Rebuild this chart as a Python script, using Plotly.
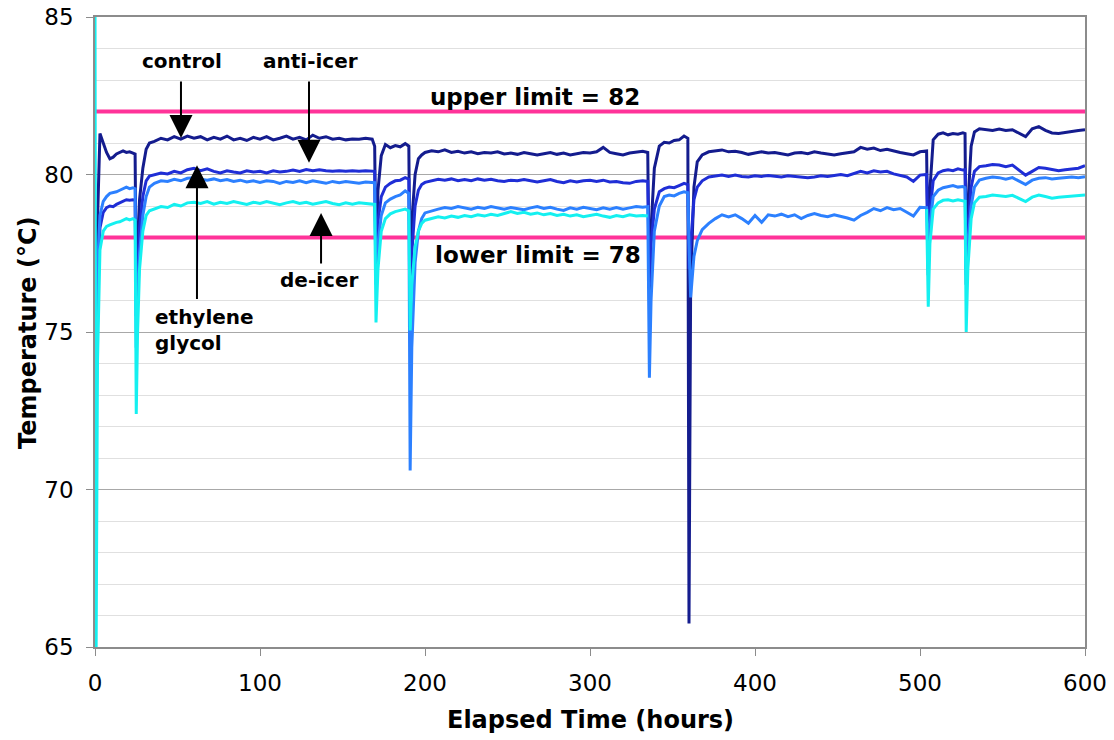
import plotly.graph_objects as go

# ---------------- data ----------------
time_h = [
    0, 0.6, 1.5, 3, 5, 7, 9, 11, 13, 15, 17, 19, 21, 23, 24.3,
    25, 25.8, 27, 29, 31, 33,
    36, 40, 44, 48, 52, 56, 60, 64, 68, 72,
    76, 80, 84, 88, 92, 96, 100, 104, 108, 112,
    116, 120, 124, 128, 132, 136, 140, 144, 148, 152,
    156, 160, 164, 168,
    169.5, 170.3, 171.5, 173.5, 176,
    179, 182, 185, 188, 190.2,
    191, 192, 194, 196, 198,
    200, 204, 208, 212, 216, 220, 224, 228, 232, 236,
    240, 244, 248, 252, 256, 260, 264, 268, 272, 276,
    280, 284, 288, 292, 296, 300, 304, 308, 312, 316,
    320, 324, 328, 332,
    335, 336, 337, 339, 342,
    345, 348, 351, 354, 357, 359.3,
    360, 361, 363, 365, 368,
    372, 376, 380, 384, 388, 392, 396, 400, 404, 408,
    412, 416, 420, 424, 428, 432, 436, 440, 444, 448,
    452, 456, 460, 464, 468, 472, 476, 480, 484, 488,
    492, 496, 500,
    504, 505, 506, 508,
    511, 514, 517, 520, 523, 526, 527.3,
    528, 529, 531, 533,
    536, 540, 544, 548, 552, 556, 560, 564, 568, 572,
    576, 580, 584, 588, 592, 596, 600,
]

control = [
    64.0, 70.0, 78.5, 81.3, 81.0, 80.7, 80.5, 80.55, 80.65, 80.7, 80.75, 80.7, 80.72, 80.68, 80.65,
    76.5, 77.8, 79.2, 80.2, 80.8, 81.0,
    81.05, 81.15, 81.1, 81.2, 81.12, 81.22, 81.15, 81.2, 81.1, 81.18,
    81.12, 81.22, 81.1, 81.15, 81.08, 81.18, 81.12, 81.2, 81.1, 81.15,
    81.22, 81.12, 81.18, 81.1, 81.25, 81.15, 81.2, 81.12, 81.15, 81.1,
    81.13, 81.12, 81.15, 81.12,
    80.9, 77.0, 79.5, 80.6, 80.95,
    80.85, 80.92, 80.88, 80.98, 80.9,
    76.0, 78.5, 80.0, 80.5, 80.62,
    80.7, 80.75, 80.72, 80.78, 80.7, 80.74, 80.68, 80.72, 80.66, 80.7,
    80.68, 80.72, 80.65, 80.68, 80.64, 80.7, 80.66, 80.62, 80.66, 80.7,
    80.64, 80.68, 80.62, 80.66, 80.7, 80.68, 80.72, 80.86, 80.7, 80.66,
    80.62, 80.68, 80.7, 80.74,
    80.7, 76.0, 78.3, 80.2, 80.9,
    81.02, 81.0, 81.08, 81.1, 81.22, 81.15,
    65.75, 76.5, 79.6, 80.4, 80.62,
    80.72, 80.75, 80.78, 80.72, 80.74, 80.7, 80.64, 80.68, 80.72, 80.68,
    80.7, 80.66, 80.62, 80.68, 80.7, 80.66, 80.72, 80.68, 80.64, 80.62,
    80.66, 80.7, 80.72, 80.86, 80.8, 80.84, 80.76, 80.8, 80.74, 80.7,
    80.66, 80.62, 80.72,
    80.75, 76.8, 79.5, 81.1,
    81.28, 81.32, 81.26, 81.3, 81.28, 81.32, 81.3,
    76.5, 79.0, 80.9, 81.35,
    81.45, 81.42, 81.4, 81.44, 81.4, 81.42, 81.3, 81.2, 81.45, 81.52,
    81.4, 81.32, 81.3, 81.34, 81.36, 81.4, 81.42,
]

anti_icer = [
    66.0, 72.0, 76.0, 78.3, 78.8, 78.95, 79.0, 78.98, 79.05, 79.1, 79.15, 79.2, 79.18, 79.2, 79.18,
    75.5, 76.8, 78.3, 79.3, 79.8, 79.95,
    80.0, 80.05, 80.02, 80.1, 80.05, 80.15, 80.2, 80.12, 80.18, 80.1,
    80.05, 80.12, 80.08, 80.05, 80.12, 80.08, 80.1, 80.05, 80.12, 80.08,
    80.1, 80.14, 80.1, 80.16, 80.12, 80.15, 80.12, 80.1, 80.12, 80.1,
    80.12, 80.1, 80.12, 80.1,
    80.1, 76.8, 78.5, 79.3, 79.6,
    79.72, 79.8, 79.82, 79.9, 79.85,
    76.0, 77.5, 79.0, 79.5, 79.68,
    79.75, 79.8, 79.85, 79.82, 79.86, 79.8, 79.84, 79.8, 79.86, 79.82,
    79.85, 79.8, 79.78, 79.82, 79.8, 79.84, 79.8, 79.76, 79.8, 79.84,
    79.78, 79.74, 79.8, 79.76, 79.8, 79.82, 79.78, 79.82, 79.76, 79.78,
    79.74, 79.72, 79.78, 79.8,
    79.78, 76.5, 77.8, 78.9, 79.45,
    79.55, 79.6, 79.58, 79.65, 79.72, 79.68,
    77.0, 77.8, 79.2, 79.6, 79.8,
    79.92, 79.96, 79.98, 79.94, 79.98, 79.94, 79.92, 79.96, 79.94, 79.97,
    79.94, 79.92, 79.96, 79.94, 79.92, 79.9, 79.92, 79.96, 79.94, 79.98,
    80.0, 79.96, 80.02, 80.1, 80.05, 80.12, 80.08, 80.1, 80.02, 79.98,
    79.92, 79.78, 79.98,
    80.0, 77.3, 78.8, 79.8,
    80.05, 80.12, 80.15, 80.12, 80.18, 80.14, 80.15,
    77.0, 78.3, 79.6, 80.1,
    80.25, 80.28, 80.32, 80.3, 80.25, 80.3, 80.15, 79.98, 80.1, 80.22,
    80.2, 80.15, 80.12, 80.15, 80.18, 80.2, 80.28,
]

ethylene_glycol = [
    66.0, 73.0, 77.0, 78.7, 79.15, 79.3, 79.4, 79.42, 79.45, 79.5, 79.55, 79.6, 79.55, 79.58, 79.55,
    74.5, 76.0, 77.5, 78.7, 79.3, 79.6,
    79.72, 79.8, 79.78, 79.85, 79.8, 79.88, 79.9, 79.85, 79.82, 79.86,
    79.8, 79.84, 79.78, 79.82, 79.76, 79.8, 79.75, 79.8, 79.78, 79.72,
    79.78, 79.75, 79.8, 79.74, 79.8, 79.76, 79.72, 79.78, 79.74, 79.78,
    79.75, 79.72, 79.76, 79.74,
    79.74, 76.5, 77.8, 78.7, 79.1,
    79.22, 79.3, 79.35, 79.48, 79.4,
    70.6, 74.5, 77.2, 78.2, 78.6,
    78.78, 78.85, 78.9, 78.95, 78.92, 78.98, 78.94, 78.9, 78.96, 78.92,
    78.98, 78.94, 78.9, 78.95, 78.92, 78.88, 78.94, 78.98, 78.92, 78.96,
    78.9, 78.86, 78.94, 78.9, 78.96, 78.92, 78.88, 78.94, 78.9, 78.95,
    78.9, 78.94, 78.98, 78.96,
    78.98, 73.55, 76.0, 78.2, 79.0,
    79.3, 79.35, 79.32, 79.4, 79.45, 79.42,
    77.8, 76.1, 77.4, 77.9, 78.25,
    78.45, 78.6, 78.72, 78.65, 78.72, 78.6, 78.45, 78.7, 78.48, 78.72,
    78.68, 78.74, 78.66, 78.72, 78.6, 78.7, 78.76, 78.7, 78.66, 78.72,
    78.68, 78.62, 78.55, 78.7, 78.8, 78.92, 78.85, 78.95, 78.88, 78.92,
    78.8, 78.68, 78.96,
    78.95, 77.0, 78.4, 79.3,
    79.5, 79.58, 79.62, 79.65, 79.6, 79.62, 79.58,
    76.8, 77.8, 79.0, 79.6,
    79.82, 79.88, 79.92, 79.9, 79.85, 79.9, 79.8, 79.68, 79.82, 79.88,
    79.9, 79.86, 79.88, 79.9, 79.92, 79.9, 79.93,
]

de_icer = [
    86.0, 64.0, 74.0, 77.6, 78.2, 78.35, 78.4, 78.45, 78.48, 78.5, 78.55, 78.6, 78.56, 78.6, 78.55,
    72.4, 75.0, 77.0, 78.2, 78.7, 78.85,
    78.9, 78.98, 78.95, 79.05, 79.0, 79.1, 79.12, 79.08, 79.14, 79.06,
    79.12, 79.08, 79.14, 79.1, 79.05, 79.12, 79.08, 79.14, 79.1, 79.04,
    79.1, 79.14, 79.08, 79.12, 79.06, 79.1, 79.14, 79.08, 79.04, 79.1,
    79.06, 79.1, 79.08, 79.05,
    79.05, 75.3, 77.0, 78.2, 78.6,
    78.75, 78.82, 78.86, 78.9, 78.84,
    75.05, 76.5, 77.7, 78.2, 78.45,
    78.55, 78.6, 78.66, 78.62, 78.68, 78.64, 78.7, 78.66, 78.72, 78.68,
    78.74, 78.7, 78.76, 78.82, 78.76, 78.8, 78.74, 78.78, 78.72, 78.76,
    78.7, 78.74, 78.68, 78.72, 78.66, 78.7, 78.74, 78.68, 78.64, 78.7,
    78.66, 78.72, 78.68, 78.7,
    78.68, None, None, None, None,
    None, None, None, None, None, None,
    None, None, None, None, None,
    None, None, None, None, None, None, None, None, None, None,
    None, None, None, None, None, None, None, None, None, None,
    None, None, None, None, None, None, None, None, None, None,
    None, None, None,
    78.9, 75.8, 77.8, 78.9,
    79.1, 79.18, 79.2, 79.16, 79.2, 79.18, 79.15,
    75.0, 77.0, 78.6, 79.1,
    79.28, 79.3, 79.35, 79.32, 79.3, 79.34, 79.25, 79.14, 79.28, 79.35,
    79.3, 79.25, 79.28, 79.3, 79.32, 79.34, 79.35,
]

limit_x = [0, 600]
upper_limit = [82, 82]
lower_limit = [78, 78]

x_ticks = [0, 100, 200, 300, 400, 500, 600]
y_ticks = [65, 70, 75, 80, 85]

# ---------------- figure ----------------
FONT = "DejaVu Sans"
fig = go.Figure()

fig.add_trace(go.Scatter(x=limit_x, y=upper_limit, mode="lines",
                         line=dict(color="#FF3399", width=4), hoverinfo="skip"))
fig.add_trace(go.Scatter(x=limit_x, y=lower_limit, mode="lines",
                         line=dict(color="#FF3399", width=4), hoverinfo="skip"))

series = [
    ("control", control, "#141C8E"),
    ("anti-icer", anti_icer, "#1F2ED6"),
    ("ethylene glycol", ethylene_glycol, "#2C80FF"),
    ("de-icer", de_icer, "#14F0F0"),
]
for name, vals, col in series:
    fig.add_trace(go.Scatter(x=time_h, y=vals, mode="lines", name=name,
                             line=dict(color=col, width=3),
                             connectgaps=False))

def label(text, x, y, size, xanchor="center", align="center"):
    fig.add_annotation(x=x, y=y, xref="x", yref="y", text=text, showarrow=False,
                       xanchor=xanchor, yanchor="middle", align=align,
                       font=dict(family=FONT, size=size, color="black"))

def arrow(x, y_tail, y_head):
    fig.add_annotation(x=x, y=y_head, ax=x, ay=y_tail, xref="x", yref="y",
                       axref="x", ayref="y", text="", showarrow=True,
                       arrowhead=2, arrowsize=2.3, arrowwidth=2, arrowcolor="black",
                       standoff=0, startstandoff=0)

label("<b>control</b>", 52.7, 83.6, 20)
label("<b>anti-icer</b>", 130.6, 83.6, 20)
label("<b>de-icer</b>", 135.5, 76.65, 20)
label("<b>ethylene<br>glycol</b>", 35.2, 75.05, 20, xanchor="left", align="left")
label("<b>upper limit = 82</b>", 266.7, 82.46, 23)
label("<b>lower limit = 78</b>", 268.5, 77.44, 23)

arrow(52.1, 83.0, 81.16)
arrow(129.7, 83.0, 80.37)
arrow(61.8, 76.0, 80.29)
arrow(137.0, 77.13, 78.78)

# axis titles (as paper annotations so the plot area stays fixed)
fig.add_annotation(x=0.5, y=-0.116, xref="paper", yref="paper",
                   text="<b>Elapsed Time (hours)</b>", showarrow=False,
                   xanchor="center", yanchor="middle",
                   font=dict(family=FONT, size=24, color="black"))
fig.add_annotation(x=-0.0677, y=0.5, xref="paper", yref="paper",
                   text="<b>Temperature (°C)</b>", showarrow=False, textangle=-90,
                   xanchor="center", yanchor="middle",
                   font=dict(family=FONT, size=24, color="black"))

fig.update_layout(
    width=1114, height=740,
    margin=dict(l=95, r=29, t=17, b=93, autoexpand=False),
    paper_bgcolor="white", plot_bgcolor="white",
    showlegend=False,
    font=dict(family=FONT, size=23, color="black"),
)
fig.update_xaxes(
    range=[0, 600], tickvals=x_ticks, showgrid=False, zeroline=False,
    automargin=False,
    showline=True, linecolor="#8C8C8C", linewidth=1.5, mirror=True,
    ticks="outside", ticklen=7, tickcolor="#8C8C8C",
    ticklabelstandoff=8, ticklabeloverflow="allow",
    tickfont=dict(family=FONT, size=23),
)
fig.update_yaxes(
    range=[65, 85], tickvals=y_ticks, showgrid=True, gridcolor="#A8A8A8",
    gridwidth=1, zeroline=False, automargin=False,
    showline=True, linecolor="#8C8C8C", linewidth=1.5, mirror=True,
    ticks="outside", ticklen=7, tickcolor="#8C8C8C",
    ticklabelstandoff=8, ticklabeloverflow="allow",
    tickfont=dict(family=FONT, size=23),
    minor=dict(dtick=1, showgrid=True, gridcolor="#E0E0E0", gridwidth=1, ticks=""),
)

# remove the default 8px page margin so the figure fills the window exactly
fig.write_html("out.html",
               config={"displayModeBar": False},
               post_script="document.body.style.margin='0';"
                           "document.body.style.overflow='hidden';")
